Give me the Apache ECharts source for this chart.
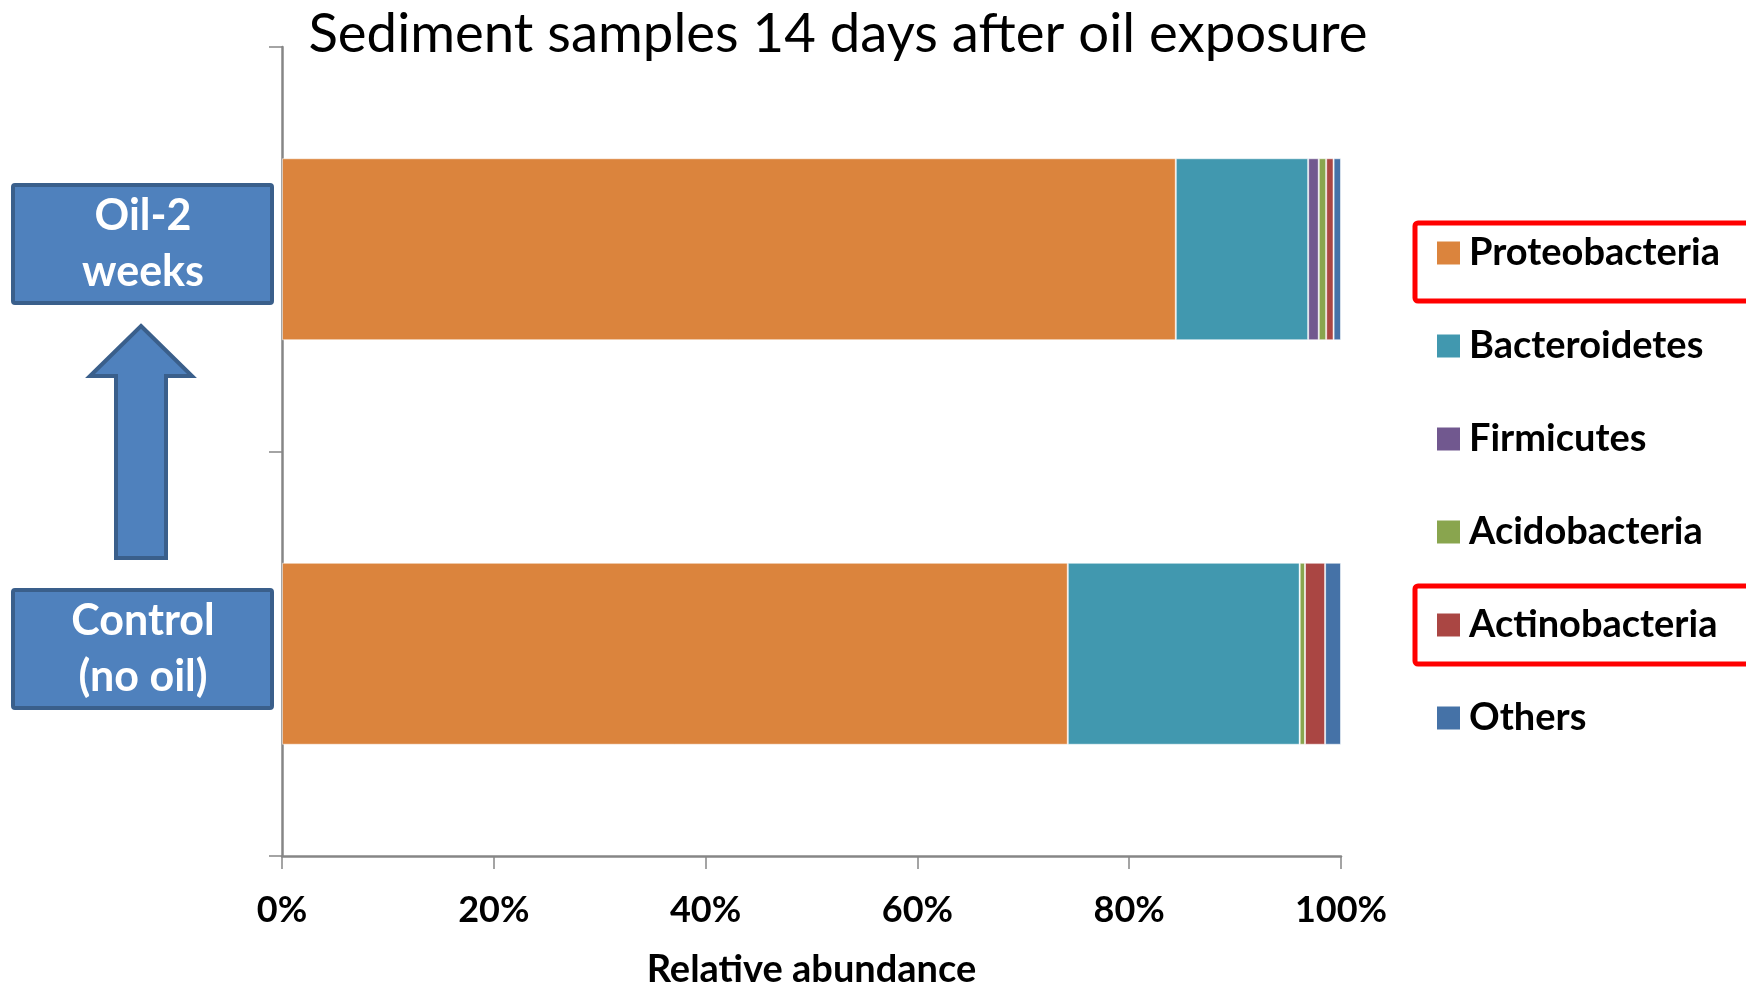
<!DOCTYPE html>
<html>
<head>
<meta charset="utf-8">
<title>Sediment samples 14 days after oil exposure</title>
<script src="https://cdn.jsdelivr.net/npm/echarts@6/dist/echarts.min.js"></script>
<style>
  html, body { margin: 0; padding: 0; background: #fff; }
  #chart { width: 1746px; height: 984px; }
</style>
</head>
<body>
<div id="chart"></div>
<script>
// Samples (bottom to top on the category axis)
const categories = ['Control (no oil)', 'Oil-2 weeks'];
const sampleLabels = ['Control\n(no oil)', 'Oil-2\nweeks'];

// Phylum names, in stacking / legend order
const phyla = ['Proteobacteria', 'Bacteroidetes', 'Firmicutes', 'Acidobacteria', 'Actinobacteria', 'Others'];

// Relative abundance (%) per phylum, [Control, Oil-2 weeks]
const proteobacteria = [74.2, 84.4];
const bacteroidetes  = [21.9, 12.5];
const firmicutes     = [0.0, 1.0];
const acidobacteria  = [0.5, 0.7];
const actinobacteria = [1.9, 0.7];
const others         = [1.5, 0.7];

const xTicks = [0, 20, 40, 60, 80, 100];

const phylumColors = ['#DB843D', '#4198AF', '#71588F', '#89A54E', '#AA4643', '#4572A7'];
const phylumValues = [proteobacteria, bacteroidetes, firmicutes, acidobacteria, actinobacteria, others];

const FONT = 'Lato, "Open Sans", "Noto Sans", sans-serif';
const AXIS_GREY = '#868686';
const BOX_FILL = '#4F81BD';
const BOX_EDGE = '#3A5F8B';

const chart = echarts.init(document.getElementById('chart'), null, { renderer: 'canvas' });

const series = phyla.map((name, i) => ({
  name: name,
  type: 'bar',
  stack: 'abundance',
  barWidth: '45%',
  data: phylumValues[i],
  itemStyle: {
    color: phylumColors[i],
    borderColor: 'rgba(255,255,255,0.55)',
    borderWidth: 1
  },
  emphasis: { disabled: true }
}));

// Sample boxes to the left of the axis, with the arrow between them
function sampleBox(label, top) {
  return {
    type: 'group',
    left: 11,
    top: top,
    children: [
      {
        type: 'rect',
        shape: { x: 0, y: 0, width: 259, height: 118, r: 2 },
        style: { fill: BOX_FILL, stroke: BOX_EDGE, lineWidth: 4 }
      },
      {
        type: 'text',
        x: 130,
        y: 59,
        style: {
          text: label,
          fill: '#fff',
          font: 'bold 43px ' + FONT,
          align: 'center',
          verticalAlign: 'middle',
          lineHeight: 56
        }
      }
    ]
  };
}

const graphic = [
  sampleBox(sampleLabels[1], 183),
  sampleBox(sampleLabels[0], 588),
  {
    type: 'polygon',
    shape: {
      points: [[141, 326], [192, 376], [166, 376], [166, 558], [116, 558], [116, 376], [90, 376]]
    },
    style: { fill: BOX_FILL, stroke: BOX_EDGE, lineWidth: 4 }
  },
  // highlight frames around two legend entries
  {
    type: 'rect',
    shape: { x: 1415, y: 223, width: 360, height: 78, r: 3 },
    style: { fill: 'none', stroke: '#FF0000', lineWidth: 5 }
  },
  {
    type: 'rect',
    shape: { x: 1415, y: 586, width: 360, height: 78, r: 3 },
    style: { fill: 'none', stroke: '#FF0000', lineWidth: 5 }
  }
];

const option = {
  backgroundColor: '#ffffff',
  animation: false,
  title: {
    text: 'Sediment samples 14 days after oil exposure',
    left: 833,
    textAlign: 'center',
    top: 2,
    textStyle: { fontFamily: FONT, fontWeight: 'normal', fontSize: 54.5, color: '#000' }
  },
  grid: { left: 282, right: 405, top: 47, bottom: 128, containLabel: false, outerBoundsMode: 'none' },
  legend: {
    orient: 'vertical',
    left: 1432,
    top: 229,
    data: phyla,
    icon: 'rect',
    itemWidth: 23,
    itemHeight: 23,
    itemGap: 55,
    itemStyle: { borderWidth: 0 },
    selectedMode: false,
    formatter: name => '{t|' + name + '}',
    textStyle: {
      fontFamily: FONT, fontWeight: 'bold', fontSize: 38, color: '#000',
      rich: { t: { fontFamily: FONT, fontWeight: 'bold', fontSize: 38, color: '#000', padding: [0, 0, 0, 4] } }
    }
  },
  xAxis: {
    type: 'value',
    min: 0,
    max: 100,
    interval: 20,
    name: 'Relative abundance',
    nameLocation: 'middle',
    nameGap: 95,
    nameTextStyle: { fontFamily: FONT, fontWeight: 'bold', fontSize: 38, color: '#000' },
    axisLine: { show: true, lineStyle: { color: AXIS_GREY, width: 2.5 } },
    axisTick: { show: true, length: 13, lineStyle: { color: AXIS_GREY, width: 1.5 } },
    splitLine: { show: false },
    axisLabel: {
      margin: 36,
      fontFamily: FONT,
      fontWeight: 'bold',
      fontSize: 36,
      color: '#000',
      customValues: xTicks,
      formatter: v => v + '%'
    }
  },
  yAxis: {
    type: 'category',
    data: categories,
    axisLine: { show: true, lineStyle: { color: AXIS_GREY, width: 2.5 } },
    axisTick: { show: true, length: 13, alignWithLabel: false, lineStyle: { color: AXIS_GREY, width: 1.5 } },
    axisLabel: { show: false },
    splitLine: { show: false }
  },
  tooltip: { show: false },
  series: series,
  graphic: graphic
};

chart.setOption(option);
</script>
</body>
</html>
